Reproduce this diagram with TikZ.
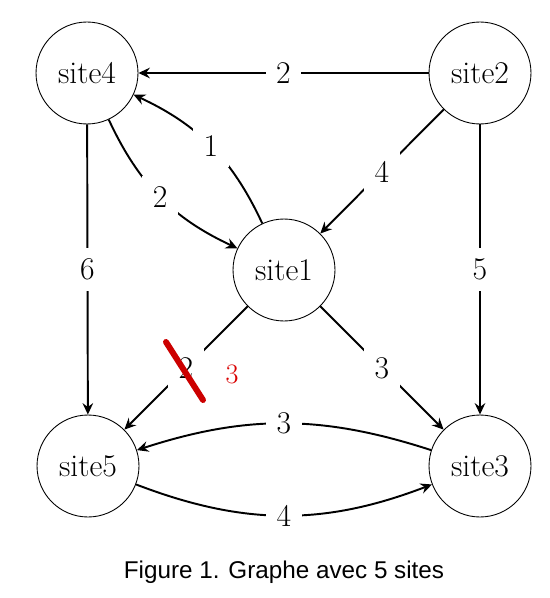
\documentclass[tikz,border=0pt]{standalone}
\usepackage{fontspec}
\newfontfamily\legende{Liberation Sans}
\usetikzlibrary{arrows.meta}
\begin{document}
\begin{tikzpicture}[>={Stealth[length=6.5pt,width=6pt,inset=2.2pt]},x=0.02cm,y=-0.02cm,
        site/.style={draw,circle,line width=0.5pt,minimum size=2.04cm,inner sep=0pt,font=\fontsize{18}{20}\selectfont},
        poids/.style={fill=white,inner sep=6pt,font=\fontsize{18}{20}\selectfont},
        arc/.style={->,line width=1.1pt}]
        \useasboundingbox (0,0) rectangle (549,598);
        \node[site] (s4) at (87,73) {site4};
        \node[site] (s2) at (480,73) {site2};
        \node[site] (s1) at (284,270) {site1};
        \node[site] (s5) at (88,466) {site5};
        \node[site] (s3) at (480,466) {site3};
        \draw[arc] (s2) -- node[poids]{2} (s4);
        \draw[arc] (s1) to [bend right=20] node[poids]{1} (s4);
        \draw[arc] (s4) to [bend right=20] node[poids]{2} (s1);
        \draw[arc] (s4) -- node[poids]{6} (s5);
        \draw[arc] (s2) -- node[poids]{4} (s1);
        \draw[arc] (s2) -- node[poids]{5} (s3);
        \draw[arc] (s1) -- node[poids] (p15){2} (s5);
        \draw[arc] (s1) -- node[poids]{3} (s3);
        \draw[arc] (s3) to [bend right=18] node[poids]{3} (s5);
        \draw[arc] (s5) to [bend right=21] node[poids]{4} (s3);
        % poids corrige
        \draw[red!80!black,line width=3.4pt,line cap=round] (166,342) -- (203,400);
        \node[text=red!85!black,font=\fontsize{16}{18}\selectfont] (corr) at (232,374) {3};
        \node[font=\legende\fontsize{13.8}{16}\selectfont] (titre) at (284,572) {Figure 1. Graphe avec 5 sites};
\end{tikzpicture}
\end{document}
